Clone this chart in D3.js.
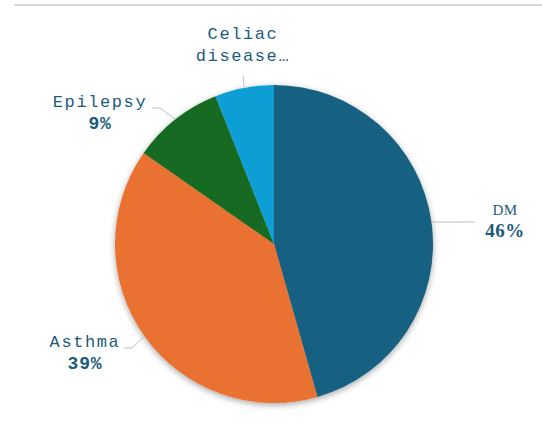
<!DOCTYPE html>
<html>
<head>
<meta charset="utf-8">
<script src="https://cdn.jsdelivr.net/npm/d3@7/dist/d3.min.js"></script>
<style>
  html, body { margin: 0; padding: 0; background: #fff; }
  svg { display: block; }
</style>
</head>
<body>
<svg id="chart" width="542" height="424"></svg>
<script>
// chart data
const categories = ['DM', 'Asthma', 'Epilepsy', 'Celiac disease…'];
const values = [45.6, 39.1, 9.3, 6.0];
const pctLabels = ['46%', '39%', '9%', ''];
const colors = ['#156082', '#e97132', '#196b24', '#0f9ed5'];

// label placement (text anchor + leader end), tuned by eye
const labelLayout = {
  'DM':              {x: 505, y: 215, lx: 475, ly: 222, font: 'serif', path: 'h'},
  'Asthma':          {x: 85,  y: 347, lx: 132, ly: 348, font: 'mono', path: 'h'},
  'Epilepsy':        {x: 100, y: 107, lx: 160, ly: 108, font: 'mono', path: 'h'},
  'Celiac disease…': {x: 243, y: 39,  lx: 243, ly: 76,  font: 'mono', path: 'v'}
};

const svg = d3.select('#chart'),
  width = +svg.attr('width'),
  height = +svg.attr('height');

const cx = 274, cy = 244, radius = 159;
const textColor = '#1c5b7c';

// thin rule at the top
svg.append('line')
  .attr('x1', 14).attr('x2', width)
  .attr('y1', 5).attr('y2', 5)
  .style('stroke', '#d9d9d9')
  .attr('stroke-width', 2);

// soft shadow under the pie
const defs = svg.append('defs');
const shadow = defs.append('filter').attr('id', 'shadow')
  .attr('x', '-20%').attr('y', '-20%').attr('width', '140%').attr('height', '140%');
shadow.append('feDropShadow')
  .attr('dx', 0).attr('dy', 2)
  .attr('stdDeviation', 3)
  .attr('flood-color', '#000')
  .attr('flood-opacity', 0.35);

const data = categories.map((c, i) => ({name: c, value: values[i], pct: pctLabels[i], color: colors[i]}));

const pie = d3.pie().sort(null).value(d => d.value);
const arcs = pie(data);

const arc = d3.arc().innerRadius(0).outerRadius(radius);

const g = svg.append('g').attr('transform', 'translate(' + cx + ',' + cy + ')');

g.append('g').attr('filter', 'url(#shadow)')
  .selectAll('path')
  .data(arcs)
  .enter().append('path')
  .style('fill', d => d.data.color)
  .attr('d', arc);

// leader lines
arcs.forEach(d => {
  const lay = labelLayout[d.data.name];
  const mid = (d.startAngle + d.endAngle) / 2;
  const px = cx + radius * Math.sin(mid);
  const py = cy - radius * Math.cos(mid);
  let pts;
  if (lay.path === 'v') {
    pts = [[lay.lx, lay.ly], [px, py]];
  } else {
    pts = [[lay.lx + (lay.lx < cx ? -8 : 0), lay.ly], [lay.lx, lay.ly], [px, py]];
  }
  svg.append('path')
    .attr('d', d3.line()(pts))
    .style('fill', 'none')
    .style('stroke', '#bfbfbf')
    .attr('stroke-width', 1);
});

// labels
arcs.forEach(d => {
  const lay = labelLayout[d.data.name];
  const mono = lay.font === 'mono';
  const t = svg.append('text')
    .attr('text-anchor', 'middle')
    .style('fill', textColor);
  const parts = d.data.name === 'Celiac disease…' ? ['Celiac', 'disease…'] : [d.data.name];
  if (d.data.pct) parts.push(d.data.pct);
  parts.forEach((p, i) => {
    const isPct = d.data.pct && i === parts.length - 1;
    t.append('tspan')
      .attr('x', lay.x)
      .attr('y', lay.y + i * 22)
      .style('font-family', mono ? '"Liberation Mono", "DejaVu Sans Mono", monospace' : '"Liberation Serif", "DejaVu Serif", serif')
      .style('font-size', mono ? (isPct ? '18px' : '17px') : (isPct ? '19px' : '15px'))
      .style('font-weight', isPct ? 'bold' : 'normal')
      .style('letter-spacing', mono ? (isPct ? '0.8px' : '1.6px') : '0.5px')
      .text(p);
  });
});
</script>
</body>
</html>
